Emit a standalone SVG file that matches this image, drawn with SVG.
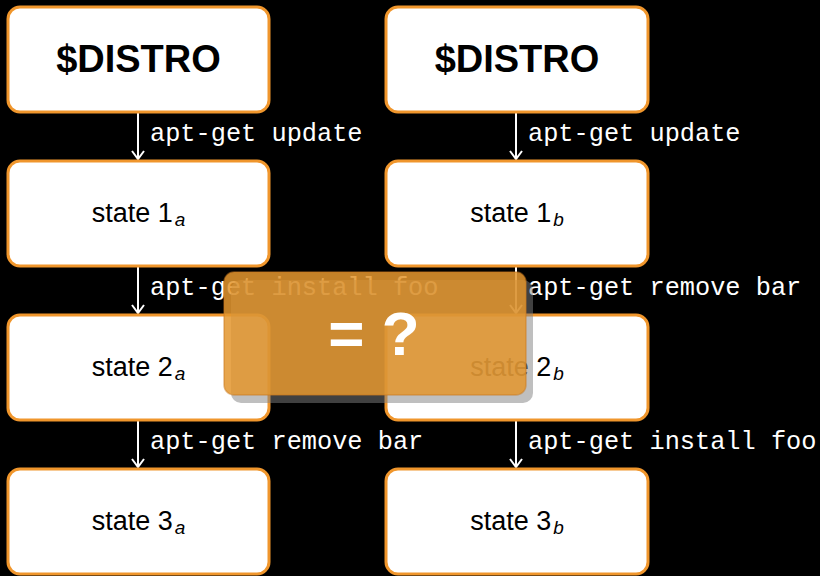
<svg xmlns="http://www.w3.org/2000/svg" width="820" height="576" viewBox="0 0 820 576">
  <defs>
    <style>
      .box { fill: #ffffff; stroke: #f0962c; stroke-width: 3; }
      .title { font-family: "Liberation Sans", Arial, sans-serif; font-weight: bold; font-size: 38px; fill: #000; text-anchor: middle; }
      .state { font-family: "Liberation Sans", Arial, sans-serif; font-size: 27px; fill: #000; text-anchor: middle; }
      .sub { font-style: italic; font-size: 19px; }
      .cmd { font-family: "Liberation Mono", "Courier New", monospace; font-size: 25.3px; fill: #ffffff; }
      .edge { stroke: #ffffff; stroke-width: 2; fill: none; marker-end: url(#head); }
      .qmark { font-family: "Liberation Sans", Arial, sans-serif; font-weight: bold; font-size: 62px; fill: #ffffff; text-anchor: middle; }
    </style>
    <marker id="head" viewBox="-10 -8 12 16" refX="0" refY="0" markerWidth="12" markerHeight="16" markerUnits="userSpaceOnUse" orient="auto">
      <path d="M-8,-6 L0,0 L-8,6" stroke="#ffffff" stroke-width="2" fill="none"/>
    </marker>
  </defs>

  <rect x="0" y="0" width="820" height="576" fill="#000000"/>

  <!-- connectors between successive states -->
  <g id="connectors">
    <line class="edge" x1="138" y1="113" x2="138" y2="159"/>
    <line class="edge" x1="138" y1="267" x2="138" y2="313"/>
    <line class="edge" x1="138" y1="421" x2="138" y2="467"/>
    <line class="edge" x1="516" y1="113" x2="516" y2="159"/>
    <line class="edge" x1="516" y1="267" x2="516" y2="313"/>
    <line class="edge" x1="516" y1="421" x2="516" y2="467"/>
    <text class="cmd" x="150" y="141">apt-get update</text>
    <text class="cmd" x="150" y="295">apt-get install foo</text>
    <text class="cmd" x="150" y="449">apt-get remove bar</text>
    <text class="cmd" x="528" y="141">apt-get update</text>
    <text class="cmd" x="528" y="295">apt-get remove bar</text>
    <text class="cmd" x="528" y="449">apt-get install foo</text>
  </g>

  <!-- left column -->
  <g id="distro-a">
    <rect class="box" x="8" y="7" width="261" height="105" rx="12"/>
    <text class="title" x="138.5" y="72">$DISTRO</text>
  </g>
  <g id="state-1a">
    <rect class="box" x="8" y="161" width="261" height="105" rx="12"/>
    <text class="state" x="138.5" y="222">state 1<tspan class="sub" dx="2" dy="4">a</tspan></text>
  </g>
  <g id="state-2a">
    <rect class="box" x="8" y="315" width="261" height="105" rx="12"/>
    <text class="state" x="138.5" y="376">state 2<tspan class="sub" dx="2" dy="4">a</tspan></text>
  </g>
  <g id="state-3a">
    <rect class="box" x="8" y="469" width="261" height="105" rx="12"/>
    <text class="state" x="138.5" y="530">state 3<tspan class="sub" dx="2" dy="4">a</tspan></text>
  </g>

  <!-- right column -->
  <g id="distro-b">
    <rect class="box" x="386" y="7" width="262" height="105" rx="12"/>
    <text class="title" x="517" y="72">$DISTRO</text>
  </g>
  <g id="state-1b">
    <rect class="box" x="386" y="161" width="262" height="105" rx="12"/>
    <text class="state" x="517" y="222">state 1<tspan class="sub" dx="2" dy="4">b</tspan></text>
  </g>
  <g id="state-2b">
    <rect class="box" x="386" y="315" width="262" height="105" rx="12"/>
    <text class="state" x="517" y="376">state 2<tspan class="sub" dx="2" dy="4">b</tspan></text>
  </g>
  <g id="state-3b">
    <rect class="box" x="386" y="469" width="262" height="105" rx="12"/>
    <text class="state" x="517" y="530">state 3<tspan class="sub" dx="2" dy="4">b</tspan></text>
  </g>

  <!-- translucent comparison badge -->
  <g id="equal-badge">
    <rect x="231" y="280" width="302" height="123" rx="10" fill="#808080" fill-opacity="0.5"/>
    <rect x="224" y="272" width="302" height="123" rx="10" fill="#e3962f" fill-opacity="0.86" stroke="#c97a1e" stroke-opacity="0.5" stroke-width="1.5"/>
    <text class="qmark" x="374" y="355">= ?</text>
  </g>
</svg>
